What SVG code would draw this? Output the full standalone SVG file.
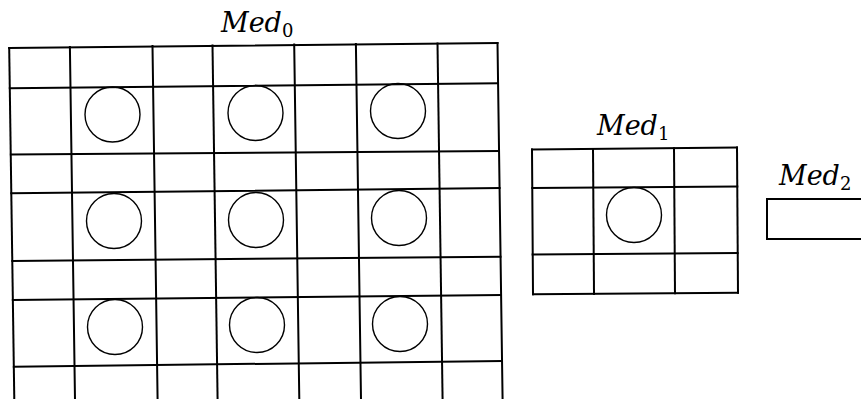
<svg xmlns="http://www.w3.org/2000/svg" width="861" height="399" viewBox="0 0 861 399">
<style>
.g line{stroke:#000;stroke-width:2;stroke-linecap:square}
.c{fill:none;stroke:#000;stroke-width:1.4}
.b{fill:none;stroke:#000;stroke-width:2}
.t{font-family:"DejaVu Serif","Liberation Serif",serif;font-size:27px;fill:#000}
.t .m{font-style:italic}
.t .s{font-size:18px;font-style:normal}
</style>
<rect width="861" height="399" fill="#fff"/>
<g id="med0">
<text class="t" x="221" y="32"><tspan class="m">Med</tspan><tspan class="s" dy="5">0</tspan></text>
<g class="g">
<line x1="9.2" y1="48" x2="497.5" y2="43"/>
<line x1="9.8" y1="88.3" x2="498" y2="83.3"/>
<line x1="10.8" y1="154.5" x2="499" y2="151"/>
<line x1="11.3" y1="193.3" x2="499.6" y2="188"/>
<line x1="12.3" y1="261" x2="500.5" y2="256.7"/>
<line x1="12.8" y1="300" x2="501" y2="295"/>
<line x1="13.8" y1="366.7" x2="502" y2="361"/>
<line x1="9.2" y1="48" x2="14.3" y2="400"/>
<line x1="69.9" y1="47" x2="75" y2="400"/>
<line x1="152.5" y1="46" x2="157.6" y2="400"/>
<line x1="212.5" y1="45.5" x2="217.6" y2="400"/>
<line x1="294.2" y1="44.5" x2="299.3" y2="400"/>
<line x1="355.9" y1="44" x2="361" y2="400"/>
<line x1="437.5" y1="43.5" x2="442.6" y2="400"/>
<line x1="497.5" y1="43" x2="502.6" y2="400"/>
</g>
<circle class="c" cx="112.5" cy="114.5" r="27.5"/>
<circle class="c" cx="255.5" cy="113" r="27.5"/>
<circle class="c" cx="398" cy="111" r="27.5"/>
<circle class="c" cx="114" cy="221" r="27.5"/>
<circle class="c" cx="256" cy="220" r="27.5"/>
<circle class="c" cx="399" cy="218" r="27.5"/>
<circle class="c" cx="115" cy="327" r="27.5"/>
<circle class="c" cx="257" cy="325" r="27.5"/>
<circle class="c" cx="400" cy="324" r="27.5"/>
</g>
<g id="med1">
<text class="t" x="597" y="135"><tspan class="m">Med</tspan><tspan class="s" dy="5">1</tspan></text>
<g class="g">
<line x1="532" y1="149.5" x2="737" y2="147.5"/>
<line x1="532.3" y1="188" x2="737.3" y2="186.5"/>
<line x1="532.6" y1="254.5" x2="737.6" y2="253"/>
<line x1="533" y1="294.3" x2="738" y2="292.7"/>
<line x1="532" y1="149.5" x2="533" y2="294.3"/>
<line x1="593" y1="149" x2="594" y2="294"/>
<line x1="674" y1="148.3" x2="675" y2="293.3"/>
<line x1="737" y1="147.5" x2="738" y2="292.7"/>
</g>
<circle class="c" cx="634" cy="215" r="27.5"/>
</g>
<g id="med2">
<text class="t" x="779" y="185"><tspan class="m">Med</tspan><tspan class="s" dy="5">2</tspan></text>
<path class="b" d="M870 199 H767 V239 H870"/>
</g>
</svg>
